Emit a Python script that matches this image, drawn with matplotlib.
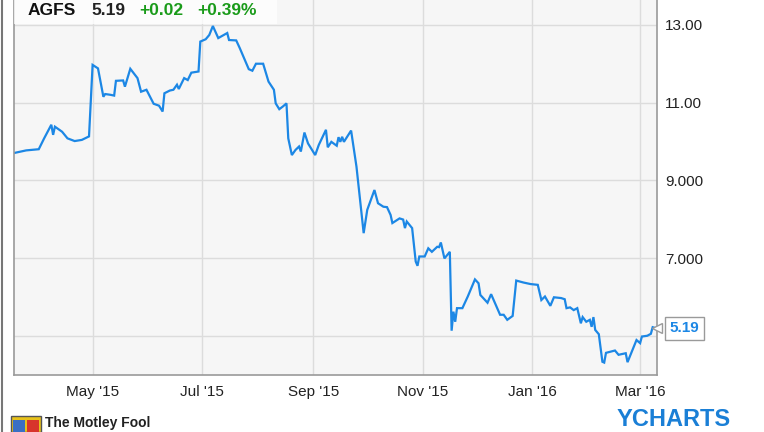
import pandas as pd
import matplotlib.pyplot as plt
from matplotlib.patches import Rectangle
from matplotlib.lines import Line2D

plt.rcParams['font.family'] = ['Liberation Sans', 'DejaVu Sans']

# AGFS daily close
dates = [
    '2015-03-18', '2015-03-25', '2015-04-01', '2015-04-04', '2015-04-08', '2015-04-09',
    '2015-04-10', '2015-04-14', '2015-04-17', '2015-04-21', '2015-04-25', '2015-04-29',
    '2015-05-01', '2015-05-04', '2015-05-07', '2015-05-08', '2015-05-11', '2015-05-13',
    '2015-05-14', '2015-05-18', '2015-05-19', '2015-05-22', '2015-05-26', '2015-05-28',
    '2015-05-31', '2015-06-02', '2015-06-04', '2015-06-07', '2015-06-09', '2015-06-10',
    '2015-06-13', '2015-06-15', '2015-06-17', '2015-06-18', '2015-06-21', '2015-06-23',
    '2015-06-25', '2015-06-29', '2015-06-30', '2015-07-03', '2015-07-05', '2015-07-07',
    '2015-07-10', '2015-07-15', '2015-07-16', '2015-07-20', '2015-07-22', '2015-07-27',
    '2015-07-29', '2015-07-31', '2015-08-04', '2015-08-07', '2015-08-10', '2015-08-11',
    '2015-08-13', '2015-08-15', '2015-08-17', '2015-08-18', '2015-08-20', '2015-08-22',
    '2015-08-24', '2015-08-25', '2015-08-27', '2015-08-29', '2015-09-02', '2015-09-04',
    '2015-09-08', '2015-09-09', '2015-09-11', '2015-09-14', '2015-09-15', '2015-09-16',
    '2015-09-17', '2015-09-18', '2015-09-22', '2015-09-25', '2015-09-29', '2015-10-01',
    '2015-10-05', '2015-10-07', '2015-10-10', '2015-10-12', '2015-10-14', '2015-10-15',
    '2015-10-19', '2015-10-21', '2015-10-22', '2015-10-23', '2015-10-26', '2015-10-28',
    '2015-10-29', '2015-10-30', '2015-11-02', '2015-11-04', '2015-11-06', '2015-11-09',
    '2015-11-10', '2015-11-11', '2015-11-13', '2015-11-16', '2015-11-17', '2015-11-18',
    '2015-11-19', '2015-11-20', '2015-11-23', '2015-11-26', '2015-11-30', '2015-12-02',
    '2015-12-03', '2015-12-07', '2015-12-09', '2015-12-14', '2015-12-16', '2015-12-18',
    '2015-12-21', '2015-12-23', '2015-12-27', '2015-12-31', '2016-01-04', '2016-01-06',
    '2016-01-08', '2016-01-11', '2016-01-13', '2016-01-17', '2016-01-19', '2016-01-20',
    '2016-01-22', '2016-01-24', '2016-01-26', '2016-01-28', '2016-01-29', '2016-01-31',
    '2016-02-02', '2016-02-03', '2016-02-04', '2016-02-05', '2016-02-07', '2016-02-09',
    '2016-02-10', '2016-02-11', '2016-02-16', '2016-02-18', '2016-02-22', '2016-02-23',
    '2016-02-28', '2016-03-01', '2016-03-02', '2016-03-05', '2016-03-07', '2016-03-08',
    '2016-03-10',
]
prices = [
    9.70, 9.77, 9.80, 10.08, 10.43, 10.17,
    10.38, 10.25, 10.08, 10.01, 10.04, 10.13,
    11.97, 11.88, 11.15, 11.22, 11.20, 11.18,
    11.56, 11.57, 11.41, 11.87, 11.63, 11.28,
    11.33, 11.15, 10.97, 10.92, 10.77, 11.24,
    11.31, 11.33, 11.46, 11.35, 11.63, 11.58,
    11.77, 11.80, 12.57, 12.63, 12.74, 12.97,
    12.66, 12.79, 12.61, 12.60, 12.40, 11.86,
    11.82, 12.00, 12.00, 11.54, 11.33, 10.98,
    10.83, 10.90, 10.98, 10.08, 9.65, 9.78,
    9.87, 9.74, 10.23, 9.95, 9.65, 9.91,
    10.30, 9.85, 9.99, 9.89, 10.11, 9.99,
    10.12, 9.99, 10.28, 9.35, 7.64, 8.24,
    8.75, 8.41, 8.32, 8.31, 8.11, 7.90,
    8.02, 7.99, 7.77, 7.94, 7.77, 6.91,
    6.80, 7.04, 7.04, 7.25, 7.16, 7.29,
    7.28, 7.40, 6.99, 7.16, 5.13, 5.62,
    5.36, 5.71, 5.71, 6.01, 6.45, 6.35,
    6.05, 5.85, 6.07, 5.54, 5.54, 5.41,
    5.51, 6.42, 6.37, 6.33, 6.31, 5.92,
    6.01, 5.77, 5.99, 5.97, 5.94, 5.71,
    5.73, 5.66, 5.71, 5.32, 5.48, 5.36,
    5.41, 5.23, 5.48, 5.15, 5.04, 4.33,
    4.31, 4.56, 4.62, 4.51, 4.55, 4.32,
    4.89, 4.81, 4.98, 5.00, 5.05, 5.22,
    5.19,
]

tick_dates = ['2015-05-01', '2015-07-01', '2015-09-01', '2015-11-01', '2016-01-01', '2016-03-01']
tick_labels = ["May '15", "Jul '15", "Sep '15", "Nov '15", "Jan '16", "Mar '16"]
y_ticks = [5, 7, 9, 11, 13]
y_labels = ['', '7.000', '9.000', '11.00', '13.00']

ticker = 'AGFS'
last = '5.19'
change = '+0.02'
change_pct = '+0.39%'

blue = '#1c87e5'
green = '#1a9b1a'

x = pd.to_datetime(dates)

fig = plt.figure(figsize=(7.64, 4.32), dpi=100)
ax = fig.add_axes([14 / 764, 57 / 432, 643 / 764, 375 / 432])
ax.set_facecolor('#f6f6f6')

ax.plot(x, prices, color=blue, lw=1.6, solid_joinstyle='miter')

ax.set_xlim(pd.Timestamp('2015-03-18') + pd.Timedelta(hours=5),
            pd.Timestamp('2016-03-10') + pd.Timedelta(hours=10))
ax.set_ylim(3.99, 13.64)

ax.set_xticks(pd.to_datetime(tick_dates))
ax.set_xticklabels(tick_labels)
ax.set_yticks(y_ticks)
ax.set_yticklabels(y_labels)
ax.yaxis.tick_right()
ax.tick_params(axis='both', length=0, labelsize=11, colors='#222222')
ax.tick_params(axis='y', pad=6)
ax.tick_params(axis='x', pad=7)
ax.grid(True, color='#dcdcdc', lw=1)
ax.set_axisbelow(True)

for side in ['left', 'bottom', 'right']:
    ax.spines[side].set_color('#9a9a9a')
    ax.spines[side].set_linewidth(1.2)
ax.spines['top'].set_visible(False)

# last price tag on the right
ax.annotate(last, xy=(1.0, prices[-1]), xycoords=('axes fraction', 'data'),
            xytext=(9, 0), textcoords='offset points', va='center', ha='left',
            fontsize=11, fontweight='bold', color=blue,
            bbox=dict(boxstyle='square,pad=0.3', fc='white', ec='#9a9a9a', lw=1),
            annotation_clip=False)
ax.plot([1.0], [prices[-1]], marker='<', ms=7, mfc='white', mec='#9a9a9a', mew=1,
        transform=ax.get_yaxis_transform(), clip_on=False, zorder=5)

# header strip
fig.add_artist(Rectangle((14 / 764, 1 - 24 / 432), 263 / 764, 24 / 432,
                         transform=fig.transFigure, fc='white', ec='none', alpha=0.75))
hy = 1 - 15 / 432
fig.text(28 / 764, hy, ticker, fontsize=12.5, fontweight='bold', color='#111111', va='baseline')
fig.text(91 / 764, hy, last, fontsize=12.5, fontweight='bold', color='#222222', va='baseline')
fig.text(139 / 764, hy, change, fontsize=12.5, fontweight='bold', color=green, va='baseline')
fig.text(197 / 764, hy, change_pct, fontsize=12.5, fontweight='bold', color=green, va='baseline')

# outer frame line
fig.add_artist(Line2D([2 / 764, 2 / 764], [0, 1], transform=fig.transFigure,
                      color='#777777', lw=1.5))

# footer branding along the bottom edge
fig.add_artist(Rectangle((11 / 764, 0), 30 / 764, 16 / 432, transform=fig.transFigure,
                         fc='#e8c21a', ec='#555555', lw=1))
fig.add_artist(Rectangle((13 / 764, 0), 12 / 764, 12 / 432, transform=fig.transFigure,
                         fc='#3a6fc4', ec='none'))
fig.add_artist(Rectangle((27 / 764, 0), 12 / 764, 12 / 432, transform=fig.transFigure,
                         fc='#d8342c', ec='none'))
fig.text(45 / 764, 2 / 432, 'The Motley Fool', fontsize=10, fontweight='bold',
         color='#222222', va='bottom')
fig.text(617 / 764, 1 / 432, 'YCHARTS', fontsize=17, fontweight='bold',
         color='#1a7fd6', va='bottom')

fig.savefig('out.png', dpi=100)
